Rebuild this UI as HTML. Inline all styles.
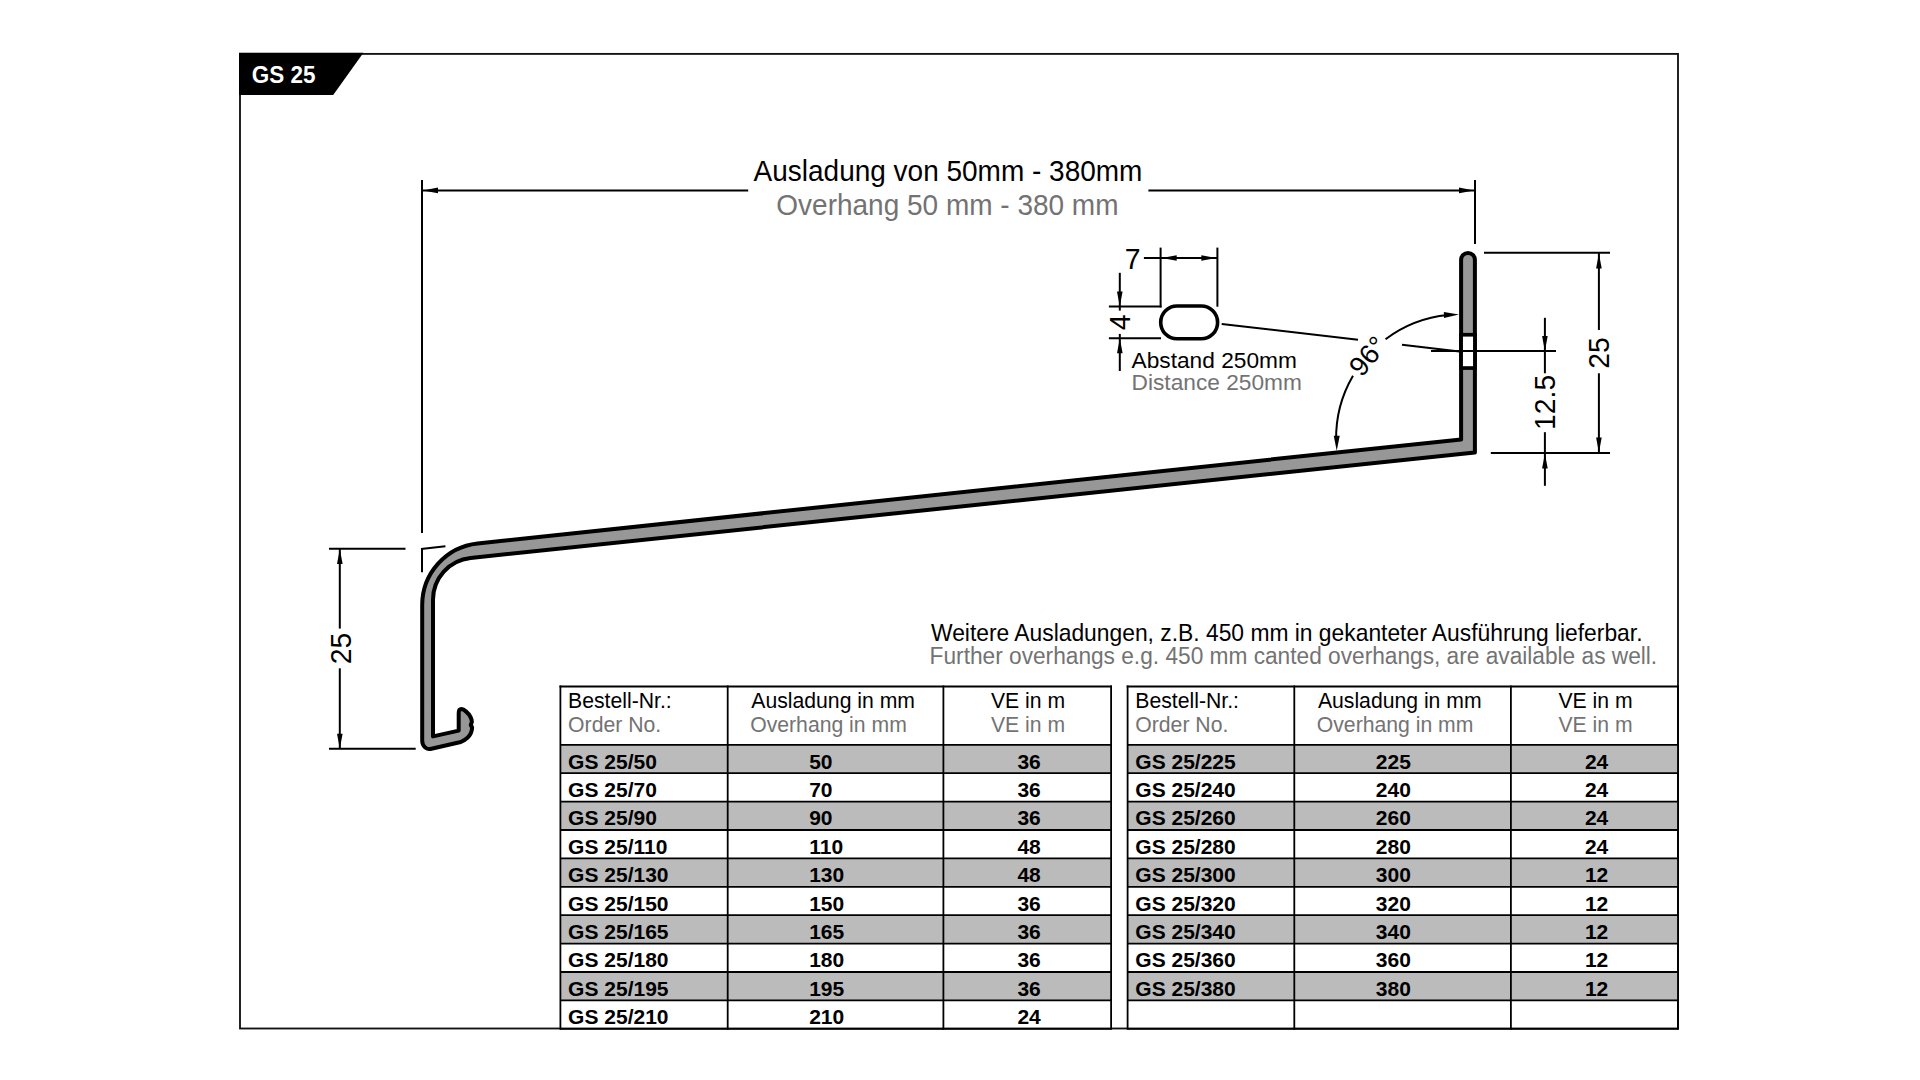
<!DOCTYPE html>
<html><head><meta charset="utf-8"><title>GS 25</title>
<style>html,body{margin:0;padding:0;background:#fff;}svg{display:block;}text{font-family:"Liberation Sans",sans-serif;}</style>
</head><body>
<svg width="1920" height="1080" viewBox="0 0 1920 1080">
<rect width="1920" height="1080" fill="#fff"/>
<rect x="240" y="53.9" width="1438" height="974.6" fill="none" stroke="#111" stroke-width="1.85"/>
<polygon points="239,52.8 363.4,52.8 333.2,95 239,95" fill="#000"/>
<text x="0" y="0" font-size="22.5" fill="#fff" text-anchor="start" font-weight="bold" transform="translate(251.80 82.90) scale(1 1.065)">GS 25</text>
<line x1="422.00" y1="180.00" x2="422.00" y2="533.00" stroke="#000" stroke-width="2"/>
<line x1="422.00" y1="549.00" x2="422.00" y2="572.20" stroke="#000" stroke-width="2"/>
<line x1="421.00" y1="549.00" x2="445.40" y2="546.30" stroke="#000" stroke-width="2"/>
<line x1="1475.00" y1="180.00" x2="1475.00" y2="244.00" stroke="#000" stroke-width="2"/>
<line x1="423.00" y1="190.40" x2="748.20" y2="190.40" stroke="#000" stroke-width="2"/>
<line x1="1148.40" y1="190.40" x2="1474.00" y2="190.40" stroke="#000" stroke-width="2"/>
<polygon points="423.00,190.40 438.00,187.60 438.00,193.20" fill="#000"/>
<polygon points="1474.00,190.40 1459.00,193.20 1459.00,187.60" fill="#000"/>
<text x="0" y="0" font-size="28" fill="#000" text-anchor="middle" font-weight="normal" transform="translate(948.00 181.00) scale(1 1.05)">Ausladung von 50mm - 380mm</text>
<text x="0" y="0" font-size="28" fill="#737373" text-anchor="middle" font-weight="normal" transform="translate(947.40 214.90) scale(1 1.05)">Overhang 50 mm - 380 mm</text>
<line x1="329.00" y1="548.80" x2="405.50" y2="548.80" stroke="#000" stroke-width="2"/>
<line x1="329.00" y1="748.80" x2="415.70" y2="748.80" stroke="#000" stroke-width="2"/>
<line x1="339.80" y1="549.00" x2="339.80" y2="628.60" stroke="#000" stroke-width="2"/>
<line x1="339.80" y1="668.30" x2="339.80" y2="748.80" stroke="#000" stroke-width="2"/>
<polygon points="339.80,549.00 342.60,564.00 337.00,564.00" fill="#000"/>
<polygon points="339.80,748.80 337.00,733.80 342.60,733.80" fill="#000"/>
<path d="M 1461.1 259.8 A 6.9 6.9 0 0 1 1474.9 259.8 L 1474.9 452.5 L 470.6 557.95 A 42 42 0 0 0 433 599.7 L 433 736.4 L 458.7 730.6 L 458.7 713.2 C 458.7 710.5 459.5 709.1 461.4 709.1 C 464 709.3 468.5 713 470.5 717 C 471.5 719 472 720.5 471.8 722.2 L 470.8 725.0 L 472.1 727.5 C 472 731 470 735.5 467.5 737.7 C 465.5 739.5 463 741 460.8 742.0 L 430.3 749.0 C 427.5 749.6 422.2 747 422.2 740.8 L 422.2 605 A 62 62 0 0 1 477.6 543.4 L 1461.1 439.4 Z" fill="#979797" stroke="#000" stroke-width="4" stroke-linejoin="round"/>
<rect x="1461.1" y="334.75" width="13.8" height="33.3" fill="#fff" stroke="#000" stroke-width="3.7"/>
<line x1="1484.00" y1="252.70" x2="1610.00" y2="252.70" stroke="#000" stroke-width="2"/>
<line x1="1490.80" y1="453.00" x2="1610.00" y2="453.00" stroke="#000" stroke-width="2"/>
<line x1="1431.00" y1="350.90" x2="1556.00" y2="350.90" stroke="#000" stroke-width="2"/>
<line x1="1598.90" y1="252.70" x2="1598.90" y2="330.00" stroke="#000" stroke-width="2"/>
<line x1="1598.90" y1="373.30" x2="1598.90" y2="453.00" stroke="#000" stroke-width="2"/>
<polygon points="1598.90,253.50 1601.70,268.50 1596.10,268.50" fill="#000"/>
<polygon points="1598.90,452.50 1596.10,437.50 1601.70,437.50" fill="#000"/>
<line x1="1544.90" y1="317.80" x2="1544.90" y2="373.30" stroke="#000" stroke-width="2"/>
<line x1="1544.90" y1="432.20" x2="1544.90" y2="485.80" stroke="#000" stroke-width="2"/>
<polygon points="1544.90,351.00 1542.10,336.00 1547.70,336.00" fill="#000"/>
<polygon points="1544.90,453.50 1547.70,468.50 1542.10,468.50" fill="#000"/>
<line x1="1160.60" y1="247.60" x2="1160.60" y2="307.40" stroke="#000" stroke-width="2"/>
<line x1="1217.40" y1="247.60" x2="1217.40" y2="306.70" stroke="#000" stroke-width="2"/>
<line x1="1108.90" y1="306.40" x2="1161.60" y2="306.40" stroke="#000" stroke-width="2"/>
<line x1="1108.90" y1="338.30" x2="1161.00" y2="338.30" stroke="#000" stroke-width="2"/>
<line x1="1143.90" y1="258.00" x2="1217.40" y2="258.00" stroke="#000" stroke-width="2"/>
<polygon points="1161.70,258.00 1176.70,255.20 1176.70,260.80" fill="#000"/>
<polygon points="1216.30,258.00 1201.30,260.80 1201.30,255.20" fill="#000"/>
<line x1="1119.80" y1="272.80" x2="1119.80" y2="310.60" stroke="#000" stroke-width="2"/>
<line x1="1119.80" y1="333.90" x2="1119.80" y2="371.00" stroke="#000" stroke-width="2"/>
<polygon points="1119.80,306.40 1117.00,291.40 1122.60,291.40" fill="#000"/>
<polygon points="1119.80,338.30 1122.60,353.30 1117.00,353.30" fill="#000"/>
<rect x="1160.7" y="306" width="56.9" height="32.8" rx="16.4" ry="16.4" fill="#fff" stroke="#000" stroke-width="3.6"/>
<line x1="1221.70" y1="323.90" x2="1358.00" y2="339.80" stroke="#000" stroke-width="2"/>
<line x1="1402.00" y1="344.70" x2="1459.40" y2="351.40" stroke="#000" stroke-width="2"/>
<path d="M 1385.53 339.28 A 123.7 123.7 0 0 1 1447.94 315.07" fill="none" stroke="#000" stroke-width="2"/>
<path d="M 1353.00 375.79 A 123.7 123.7 0 0 0 1336.12 440.36" fill="none" stroke="#000" stroke-width="2"/>
<polygon points="1458.94,314.50 1444.03,317.95 1443.85,311.95" fill="#000"/>
<polygon points="1336.73,450.70 1333.73,435.70 1339.73,435.70" fill="#000"/>
<text x="0" y="0" font-size="28.3" text-anchor="middle" transform="translate(340.85 648.45) rotate(-90) scale(1 1.05) translate(0 9.74)">25</text>
<text x="0" y="0" font-size="28.3" text-anchor="middle" transform="translate(1599.05 353.05) rotate(-90) scale(1 1.05) translate(0 9.74)">25</text>
<text x="0" y="0" font-size="28.3" text-anchor="middle" transform="translate(1544.95 402.40) rotate(-90) scale(1 1.05) translate(0 9.74)">12.5</text>
<text x="0" y="0" font-size="28.3" text-anchor="middle" transform="translate(1132.70 258.80) rotate(0) scale(1 1.05) translate(0 9.74)">7</text>
<text x="0" y="0" font-size="28.3" text-anchor="middle" transform="translate(1119.70 322.50) rotate(-90) scale(1 1.05) translate(0 9.74)">4</text>
<text x="0" y="0" font-size="27.5" text-anchor="middle" transform="translate(1367.7 355.9) rotate(-50) translate(0 9.7)">96°</text>
<text x="1131.60" y="368.00" font-size="22.7" fill="#000" text-anchor="start" font-weight="normal">Abstand 250mm</text>
<text x="1131.60" y="389.50" font-size="22.7" fill="#737373" text-anchor="start" font-weight="normal">Distance 250mm</text>
<text x="0" y="0" font-size="22.85" fill="#000" text-anchor="start" font-weight="normal" transform="translate(931.00 640.60) scale(1 1.05)">Weitere Ausladungen, z.B. 450 mm in gekanteter Ausführung lieferbar.</text>
<text x="0" y="0" font-size="22.7" fill="#737373" text-anchor="start" font-weight="normal" transform="translate(929.60 663.90) scale(1 1.06)">Further overhangs e.g. 450 mm canted overhangs, are available as well.</text>
<rect x="560.4" y="744.80" width="550.6999999999999" height="28.4" fill="#bbbbbb"/>
<rect x="560.4" y="801.60" width="550.6999999999999" height="28.4" fill="#bbbbbb"/>
<rect x="560.4" y="858.40" width="550.6999999999999" height="28.4" fill="#bbbbbb"/>
<rect x="560.4" y="915.20" width="550.6999999999999" height="28.4" fill="#bbbbbb"/>
<rect x="560.4" y="972.00" width="550.6999999999999" height="28.4" fill="#bbbbbb"/>
<line x1="560.40" y1="744.80" x2="1111.10" y2="744.80" stroke="#000" stroke-width="1.8"/>
<line x1="560.40" y1="773.20" x2="1111.10" y2="773.20" stroke="#000" stroke-width="1.8"/>
<line x1="560.40" y1="801.60" x2="1111.10" y2="801.60" stroke="#000" stroke-width="1.8"/>
<line x1="560.40" y1="830.00" x2="1111.10" y2="830.00" stroke="#000" stroke-width="1.8"/>
<line x1="560.40" y1="858.40" x2="1111.10" y2="858.40" stroke="#000" stroke-width="1.8"/>
<line x1="560.40" y1="886.80" x2="1111.10" y2="886.80" stroke="#000" stroke-width="1.8"/>
<line x1="560.40" y1="915.20" x2="1111.10" y2="915.20" stroke="#000" stroke-width="1.8"/>
<line x1="560.40" y1="943.60" x2="1111.10" y2="943.60" stroke="#000" stroke-width="1.8"/>
<line x1="560.40" y1="972.00" x2="1111.10" y2="972.00" stroke="#000" stroke-width="1.8"/>
<line x1="560.40" y1="1000.40" x2="1111.10" y2="1000.40" stroke="#000" stroke-width="1.8"/>
<line x1="560.40" y1="1028.80" x2="1111.10" y2="1028.80" stroke="#000" stroke-width="1.8"/>
<line x1="559.50" y1="686.50" x2="1112.00" y2="686.50" stroke="#000" stroke-width="1.8"/>
<line x1="560.40" y1="685.60" x2="560.40" y2="1029.70" stroke="#000" stroke-width="1.8"/>
<line x1="727.70" y1="685.60" x2="727.70" y2="1029.70" stroke="#000" stroke-width="1.8"/>
<line x1="943.40" y1="685.60" x2="943.40" y2="1029.70" stroke="#000" stroke-width="1.8"/>
<line x1="1111.10" y1="685.60" x2="1111.10" y2="1029.70" stroke="#000" stroke-width="1.8"/>
<text x="568.10" y="707.70" font-size="21.2" fill="#000" text-anchor="start" font-weight="normal">Bestell-Nr.:</text>
<text x="568.10" y="732.00" font-size="21.2" fill="#737373" text-anchor="start" font-weight="normal">Order No.</text>
<text x="751.30" y="707.70" font-size="21.2" fill="#000" text-anchor="start" font-weight="normal">Ausladung in mm</text>
<text x="750.20" y="732.00" font-size="21.2" fill="#737373" text-anchor="start" font-weight="normal">Overhang in mm</text>
<text x="990.90" y="707.70" font-size="21.2" fill="#000" text-anchor="start" font-weight="normal">VE in m</text>
<text x="990.90" y="732.00" font-size="21.2" fill="#737373" text-anchor="start" font-weight="normal">VE in m</text>
<text x="568.10" y="768.50" font-size="21" fill="#000" text-anchor="start" font-weight="bold">GS 25/50</text>
<text x="809.20" y="768.50" font-size="21" fill="#000" text-anchor="start" font-weight="bold">50</text>
<text x="1017.40" y="768.50" font-size="21" fill="#000" text-anchor="start" font-weight="bold">36</text>
<text x="568.10" y="796.90" font-size="21" fill="#000" text-anchor="start" font-weight="bold">GS 25/70</text>
<text x="809.20" y="796.90" font-size="21" fill="#000" text-anchor="start" font-weight="bold">70</text>
<text x="1017.40" y="796.90" font-size="21" fill="#000" text-anchor="start" font-weight="bold">36</text>
<text x="568.10" y="825.30" font-size="21" fill="#000" text-anchor="start" font-weight="bold">GS 25/90</text>
<text x="809.20" y="825.30" font-size="21" fill="#000" text-anchor="start" font-weight="bold">90</text>
<text x="1017.40" y="825.30" font-size="21" fill="#000" text-anchor="start" font-weight="bold">36</text>
<text x="568.10" y="853.70" font-size="21" fill="#000" text-anchor="start" font-weight="bold">GS 25/110</text>
<text x="809.20" y="853.70" font-size="21" fill="#000" text-anchor="start" font-weight="bold">110</text>
<text x="1017.40" y="853.70" font-size="21" fill="#000" text-anchor="start" font-weight="bold">48</text>
<text x="568.10" y="882.10" font-size="21" fill="#000" text-anchor="start" font-weight="bold">GS 25/130</text>
<text x="809.20" y="882.10" font-size="21" fill="#000" text-anchor="start" font-weight="bold">130</text>
<text x="1017.40" y="882.10" font-size="21" fill="#000" text-anchor="start" font-weight="bold">48</text>
<text x="568.10" y="910.50" font-size="21" fill="#000" text-anchor="start" font-weight="bold">GS 25/150</text>
<text x="809.20" y="910.50" font-size="21" fill="#000" text-anchor="start" font-weight="bold">150</text>
<text x="1017.40" y="910.50" font-size="21" fill="#000" text-anchor="start" font-weight="bold">36</text>
<text x="568.10" y="938.90" font-size="21" fill="#000" text-anchor="start" font-weight="bold">GS 25/165</text>
<text x="809.20" y="938.90" font-size="21" fill="#000" text-anchor="start" font-weight="bold">165</text>
<text x="1017.40" y="938.90" font-size="21" fill="#000" text-anchor="start" font-weight="bold">36</text>
<text x="568.10" y="967.30" font-size="21" fill="#000" text-anchor="start" font-weight="bold">GS 25/180</text>
<text x="809.20" y="967.30" font-size="21" fill="#000" text-anchor="start" font-weight="bold">180</text>
<text x="1017.40" y="967.30" font-size="21" fill="#000" text-anchor="start" font-weight="bold">36</text>
<text x="568.10" y="995.70" font-size="21" fill="#000" text-anchor="start" font-weight="bold">GS 25/195</text>
<text x="809.20" y="995.70" font-size="21" fill="#000" text-anchor="start" font-weight="bold">195</text>
<text x="1017.40" y="995.70" font-size="21" fill="#000" text-anchor="start" font-weight="bold">36</text>
<text x="568.10" y="1024.10" font-size="21" fill="#000" text-anchor="start" font-weight="bold">GS 25/210</text>
<text x="809.20" y="1024.10" font-size="21" fill="#000" text-anchor="start" font-weight="bold">210</text>
<text x="1017.40" y="1024.10" font-size="21" fill="#000" text-anchor="start" font-weight="bold">24</text>
<rect x="1127.6" y="744.80" width="550.4000000000001" height="28.4" fill="#bbbbbb"/>
<rect x="1127.6" y="801.60" width="550.4000000000001" height="28.4" fill="#bbbbbb"/>
<rect x="1127.6" y="858.40" width="550.4000000000001" height="28.4" fill="#bbbbbb"/>
<rect x="1127.6" y="915.20" width="550.4000000000001" height="28.4" fill="#bbbbbb"/>
<rect x="1127.6" y="972.00" width="550.4000000000001" height="28.4" fill="#bbbbbb"/>
<line x1="1127.60" y1="744.80" x2="1678.00" y2="744.80" stroke="#000" stroke-width="1.8"/>
<line x1="1127.60" y1="773.20" x2="1678.00" y2="773.20" stroke="#000" stroke-width="1.8"/>
<line x1="1127.60" y1="801.60" x2="1678.00" y2="801.60" stroke="#000" stroke-width="1.8"/>
<line x1="1127.60" y1="830.00" x2="1678.00" y2="830.00" stroke="#000" stroke-width="1.8"/>
<line x1="1127.60" y1="858.40" x2="1678.00" y2="858.40" stroke="#000" stroke-width="1.8"/>
<line x1="1127.60" y1="886.80" x2="1678.00" y2="886.80" stroke="#000" stroke-width="1.8"/>
<line x1="1127.60" y1="915.20" x2="1678.00" y2="915.20" stroke="#000" stroke-width="1.8"/>
<line x1="1127.60" y1="943.60" x2="1678.00" y2="943.60" stroke="#000" stroke-width="1.8"/>
<line x1="1127.60" y1="972.00" x2="1678.00" y2="972.00" stroke="#000" stroke-width="1.8"/>
<line x1="1127.60" y1="1000.40" x2="1678.00" y2="1000.40" stroke="#000" stroke-width="1.8"/>
<line x1="1127.60" y1="1028.80" x2="1678.00" y2="1028.80" stroke="#000" stroke-width="1.8"/>
<line x1="1126.70" y1="686.50" x2="1678.90" y2="686.50" stroke="#000" stroke-width="1.8"/>
<line x1="1127.60" y1="685.60" x2="1127.60" y2="1029.70" stroke="#000" stroke-width="1.8"/>
<line x1="1294.30" y1="685.60" x2="1294.30" y2="1029.70" stroke="#000" stroke-width="1.8"/>
<line x1="1510.90" y1="685.60" x2="1510.90" y2="1029.70" stroke="#000" stroke-width="1.8"/>
<line x1="1678.00" y1="685.60" x2="1678.00" y2="1029.70" stroke="#000" stroke-width="1.8"/>
<text x="1135.30" y="707.70" font-size="21.2" fill="#000" text-anchor="start" font-weight="normal">Bestell-Nr.:</text>
<text x="1135.30" y="732.00" font-size="21.2" fill="#737373" text-anchor="start" font-weight="normal">Order No.</text>
<text x="1317.90" y="707.70" font-size="21.2" fill="#000" text-anchor="start" font-weight="normal">Ausladung in mm</text>
<text x="1316.80" y="732.00" font-size="21.2" fill="#737373" text-anchor="start" font-weight="normal">Overhang in mm</text>
<text x="1558.40" y="707.70" font-size="21.2" fill="#000" text-anchor="start" font-weight="normal">VE in m</text>
<text x="1558.40" y="732.00" font-size="21.2" fill="#737373" text-anchor="start" font-weight="normal">VE in m</text>
<text x="1135.30" y="768.50" font-size="21" fill="#000" text-anchor="start" font-weight="bold">GS 25/225</text>
<text x="1375.80" y="768.50" font-size="21" fill="#000" text-anchor="start" font-weight="bold">225</text>
<text x="1584.90" y="768.50" font-size="21" fill="#000" text-anchor="start" font-weight="bold">24</text>
<text x="1135.30" y="796.90" font-size="21" fill="#000" text-anchor="start" font-weight="bold">GS 25/240</text>
<text x="1375.80" y="796.90" font-size="21" fill="#000" text-anchor="start" font-weight="bold">240</text>
<text x="1584.90" y="796.90" font-size="21" fill="#000" text-anchor="start" font-weight="bold">24</text>
<text x="1135.30" y="825.30" font-size="21" fill="#000" text-anchor="start" font-weight="bold">GS 25/260</text>
<text x="1375.80" y="825.30" font-size="21" fill="#000" text-anchor="start" font-weight="bold">260</text>
<text x="1584.90" y="825.30" font-size="21" fill="#000" text-anchor="start" font-weight="bold">24</text>
<text x="1135.30" y="853.70" font-size="21" fill="#000" text-anchor="start" font-weight="bold">GS 25/280</text>
<text x="1375.80" y="853.70" font-size="21" fill="#000" text-anchor="start" font-weight="bold">280</text>
<text x="1584.90" y="853.70" font-size="21" fill="#000" text-anchor="start" font-weight="bold">24</text>
<text x="1135.30" y="882.10" font-size="21" fill="#000" text-anchor="start" font-weight="bold">GS 25/300</text>
<text x="1375.80" y="882.10" font-size="21" fill="#000" text-anchor="start" font-weight="bold">300</text>
<text x="1584.90" y="882.10" font-size="21" fill="#000" text-anchor="start" font-weight="bold">12</text>
<text x="1135.30" y="910.50" font-size="21" fill="#000" text-anchor="start" font-weight="bold">GS 25/320</text>
<text x="1375.80" y="910.50" font-size="21" fill="#000" text-anchor="start" font-weight="bold">320</text>
<text x="1584.90" y="910.50" font-size="21" fill="#000" text-anchor="start" font-weight="bold">12</text>
<text x="1135.30" y="938.90" font-size="21" fill="#000" text-anchor="start" font-weight="bold">GS 25/340</text>
<text x="1375.80" y="938.90" font-size="21" fill="#000" text-anchor="start" font-weight="bold">340</text>
<text x="1584.90" y="938.90" font-size="21" fill="#000" text-anchor="start" font-weight="bold">12</text>
<text x="1135.30" y="967.30" font-size="21" fill="#000" text-anchor="start" font-weight="bold">GS 25/360</text>
<text x="1375.80" y="967.30" font-size="21" fill="#000" text-anchor="start" font-weight="bold">360</text>
<text x="1584.90" y="967.30" font-size="21" fill="#000" text-anchor="start" font-weight="bold">12</text>
<text x="1135.30" y="995.70" font-size="21" fill="#000" text-anchor="start" font-weight="bold">GS 25/380</text>
<text x="1375.80" y="995.70" font-size="21" fill="#000" text-anchor="start" font-weight="bold">380</text>
<text x="1584.90" y="995.70" font-size="21" fill="#000" text-anchor="start" font-weight="bold">12</text>
<text x="1135.30" y="1024.10" font-size="21" fill="#000" text-anchor="start" font-weight="bold"></text>
<text x="1375.80" y="1024.10" font-size="21" fill="#000" text-anchor="start" font-weight="bold"></text>
<text x="1584.90" y="1024.10" font-size="21" fill="#000" text-anchor="start" font-weight="bold"></text>
</svg></body></html>
